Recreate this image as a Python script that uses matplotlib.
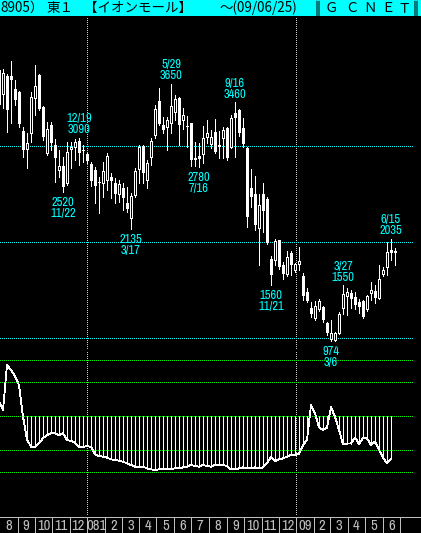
import numpy as np
import pandas as pd
import matplotlib
matplotlib.use('Agg')
import matplotlib.pyplot as plt
from matplotlib import font_manager as fm

plt.rcParams['lines.scale_dashes'] = False

# ---------------- data ----------------
WEEK0 = '2007-07-30'   # first weekly candle (week starting Monday)

opens = [3795, 3545, 3730, 3730, 3595, 3565, 3160, 2970, 3140, 3505,
         3745, 3410, 2930, 3220, 3015, 2755, 2795, 2620, 2970, 2995,
         3055, 2960, 2920, 2815, 2755, 2630, 2620, 2650, 2680, 2620,
         2505, 2565, 2410, 2255, 2495, 2765, 3005, 2650, 2890, 3120,
         3470, 3220, 3200, 3245, 3355, 3505, 3275, 3210, 3245, 2880,
         2900, 2920, 3095, 3025, 3150, 3015, 3085, 3190, 2995, 3345,
         3380, 3190, 2980, 2565, 2505, 2150, 2505, 2450, 1825, 1815,
         2020, 1765, 1670, 1890, 1710, 1775, 1650, 1480, 1315, 1210,
         1305, 1325, 1160, 995, 980, 1055, 1315, 1440, 1470, 1430,
         1380, 1390, 1305, 1470, 1495, 1420, 1670, 1745, 1920, 1910]
highs = [3815, 3805, 3755, 3890, 3690, 3575, 3200, 3140, 3565, 3845,
         3755, 3420, 3255, 3255, 3075, 2960, 2890, 3045, 3045, 3075,
         3090, 3015, 2930, 2835, 2785, 2680, 2835, 2930, 2720, 2670,
         2650, 2620, 2575, 2515, 2775, 3015, 3015, 2855, 3085, 3430,
         3605, 3305, 3305, 3650, 3535, 3515, 3400, 3315, 3245, 3045,
         3035, 3210, 3275, 3170, 3285, 3160, 3200, 3200, 3325, 3460,
         3390, 3295, 2995, 2765, 2690, 2505, 2620, 2470, 1855, 2030,
         2025, 1795, 1910, 1910, 1785, 1950, 1680, 1525, 1380, 1390,
         1410, 1335, 1170, 1190, 1065, 1275, 1550, 1525, 1505, 1480,
         1410, 1400, 1450, 1585, 1555, 1765, 1745, 2005, 2035, 1940]
lows = [3345, 3400, 3150, 3245, 3430, 3200, 2890, 2775, 3045, 3325,
        3380, 3065, 2910, 2960, 2630, 2680, 2520, 2595, 2775, 2855,
        2805, 2835, 2825, 2585, 2410, 2305, 2470, 2545, 2460, 2410,
        2420, 2335, 2315, 2135, 2470, 2620, 2620, 2565, 2805, 3085,
        3220, 3140, 2960, 3140, 3275, 3015, 3180, 2995, 2795, 2795,
        2780, 2825, 3035, 2980, 2930, 2880, 2880, 2855, 2980, 2890,
        3105, 2995, 2160, 2370, 2130, 1765, 2105, 1980, 1560, 1765,
        1720, 1620, 1650, 1660, 1690, 1710, 1400, 1380, 1220, 1190,
        1285, 1170, 1035, 974, 975, 1045, 1255, 1245, 1315, 1305,
        1265, 1210, 1285, 1400, 1370, 1410, 1650, 1660, 1815, 1765]
closes = [3430, 3765, 3380, 3690, 3480, 3230, 2960, 3035, 3515, 3630,
          3390, 3095, 3180, 3035, 2880, 2795, 2575, 2940, 2995, 3045,
          2930, 2950, 2845, 2640, 2585, 2620, 2745, 2900, 2640, 2505,
          2605, 2460, 2345, 2480, 2745, 2995, 2720, 2825, 3055, 3390,
          3230, 3170, 3275, 3420, 3495, 3220, 3325, 3205, 2855, 2855,
          2870, 3085, 3140, 3095, 2940, 2995, 3170, 2880, 3295, 3295,
          3140, 3025, 2265, 2470, 2180, 2390, 2325, 1995, 1660, 2015,
          1745, 1670, 1845, 1765, 1775, 1805, 1440, 1390, 1255, 1335,
          1390, 1190, 1055, 1055, 1055, 1255, 1460, 1480, 1410, 1345,
          1325, 1220, 1440, 1505, 1420, 1620, 1710, 1900, 1890, 1890]

# oscillator (deviation-type indicator, lower panel)
osc = [8.6, 3.7, 30.2, 27.2, 23.7, 18.4, -0.2, -13.5, -17.9, -17.9,
       -15.9, -12.9, -11.0, -10.0, -10.0, -11.0, -10.0, -13.9, -14.5, -15.5,
       -18.2, -17.9, -17.5, -17.9, -22.4, -23.4, -23.7, -24.3, -25.3, -25.7,
       -26.1, -26.7, -27.6, -28.6, -29.6, -30.0, -29.6, -30.6, -31.2, -31.6,
       -31.2, -31.2, -31.2, -31.0, -30.6, -30.6, -30.0, -29.6, -28.6, -29.2,
       -29.6, -28.6, -29.2, -29.6, -28.6, -28.6, -28.6, -29.2, -31.2, -31.2,
       -30.6, -30.0, -30.6, -30.6, -30.0, -30.6, -30.0, -27.6, -23.7, -26.3,
       -25.3, -24.7, -23.7, -22.7, -22.7, -22.0, -16.9, -13.9, 6.6, 1.8,
       -6.5, -8.0, -6.7, 5.3, -0.2, -8.0, -16.3, -16.0, -16.0, -12.4,
       -16.3, -12.9, -12.9, -16.9, -14.9, -19.8, -24.3, -27.5, -25.0, np.nan]
osc_levels = [33, 20, 0, -20, -33]
price_grid = [1000, 2000, 3000]

# peak / trough annotations: (week index, date text)
high_marks = [(20, '12/19'), (43, '5/29'), (59, '9/16'), (86, '3/27'), (98, '6/15')]
low_marks = [(16, '11/22'), (33, '3/17'), (50, '7/16'), (68, '11/21'), (83, '3/6')]

month_labels = ['8', '9', '10', '11', '12', '081', '2', '3', '4', '5', '6', '7',
                '8', '9', '10', '11', '12', '09', '2', '3', '4', '5', '6']
month_bounds = ['2007-08-01'] + [d.strftime('%Y-%m-%d') for d in
                                 pd.date_range('2007-09-01', '2009-07-01', freq='MS')]
year_starts = ['2008-01-01', '2009-01-01']

header_parts = [('8905）', 0, 'left'), ('東１', 46.5, 'left'),
                ('【イオンモール】', 84, 'left'), ('～(09/06/25)', 219, 'left'),
                ('Ｇ', 331, 'center'), ('Ｃ', 352, 'center'),
                ('Ｎ', 370, 'center'), ('Ｅ', 388, 'center'), ('Ｔ', 404, 'center')]
header_bars = [('║', 318), ('║', 416)]

# ---------------- style ----------------
narrow_fam, narrow_stretch = 'DejaVu Sans', 'normal'
for f in fm.fontManager.ttflist:
    if 'Narrow' in f.name and f.style == 'normal' and f.weight in (400, 'normal', 'regular'):
        narrow_fam, narrow_stretch = f.name, f.stretch
        break
else:
    for f in fm.fontManager.ttflist:
        if f.name == 'DejaVu Sans' and f.stretch == 'condensed' and f.style == 'normal':
            narrow_fam, narrow_stretch = 'DejaVu Sans', 'condensed'
            break
IS_NARROW = ('Narrow' in narrow_fam) or narrow_stretch == 'condensed'
NSIZE_LBL = 9 if IS_NARROW else 8
NSIZE_MON = 10.5 if IS_NARROW else 9
NFONT = dict(family=narrow_fam, fontstretch=narrow_stretch)
CJK = ['Noto Sans CJK JP', 'DejaVu Sans']

CYAN = '#00ffff'
GREEN = '#00ff00'
GRAY = '#c0c0c0'
WHITE = '#ffffff'
PX = 0.72  # one pixel in points at 100 dpi
LW = 0.6
DOT = (0, (PX, 2 * PX))

W, H = 421, 533
fig = plt.figure(figsize=(W / 100, H / 100), dpi=100, facecolor='black')


def ax_px(top, bottom, face='none', z=0):
    a = fig.add_axes([0, (H - bottom) / H, 1, (bottom - top) / H])
    a.set_facecolor(face)
    a.set_zorder(z)
    a.set_xticks([]); a.set_yticks([])
    for s in a.spines.values():
        s.set_visible(False)
    return a


def wpos(date):
    return ((pd.Timestamp(date) - pd.Timestamp(WEEK0)).days - 0.5) / 7


XLIM = (0.25, 105.5)
XEND = 103.5
idx = np.arange(len(opens))

# header
hx = ax_px(0, 15.5, face=CYAN, z=1)
hx.set_xlim(0, W); hx.set_ylim(15.5, 0)
for txt, x, ha in header_parts:
    hx.text(x, 8, txt, ha=ha, va='center', fontsize=9.7, family=CJK, color='black')
for txt, x in header_bars:
    hx.text(x, 8, txt, ha='center', va='center', fontsize=9.5, family='DejaVu Sans',
            color='black')

# price panel
ax = ax_px(16, 350, z=3)
ax.set_xlim(*XLIM)
ax.set_ylim(878.1, 4357.3)
ax.hlines(price_grid, XLIM[0], XEND, colors=CYAN, linestyles=DOT, lw=PX,
          antialiased=False, zorder=1)
ax.vlines(idx, lows, highs, colors=WHITE, lw=LW, antialiased=False, zorder=2)
o = np.array(opens, float); c = np.array(closes, float)
down = c < o
up = ~down
hdown = np.maximum(o[down] - c[down], 10)
ax.bar(idx[down], hdown, bottom=c[down], width=0.75, color=WHITE, linewidth=0,
       antialiased=False, zorder=3)
ax.bar(idx[up], c[up] - o[up], bottom=o[up], width=0.5, facecolor='black',
       edgecolor=WHITE, linewidth=LW, antialiased=False, zorder=3)

for i, d in high_marks:
    ax.annotate(str(highs[i]), xy=(i, highs[i]), xytext=(0, 4.6), textcoords='offset pixels',
                ha='center', va='baseline', color=CYAN, fontsize=NSIZE_LBL, **NFONT)
    ax.annotate(d, xy=(i, highs[i]), xytext=(0, 15.5), textcoords='offset pixels',
                ha='center', va='baseline', color=CYAN, fontsize=NSIZE_LBL, **NFONT)
for i, d in low_marks:
    ax.annotate(str(lows[i]), xy=(i, lows[i]), xytext=(0, -14), textcoords='offset pixels',
                ha='center', va='baseline', color=CYAN, fontsize=NSIZE_LBL,
                annotation_clip=False, **NFONT)
    ax.annotate(d, xy=(i, lows[i]), xytext=(0, -25), textcoords='offset pixels',
                ha='center', va='baseline', color=CYAN, fontsize=NSIZE_LBL,
                annotation_clip=False, **NFONT)

# oscillator panel
ox = ax_px(350, 516, z=2)
ox.set_xlim(*XLIM)
ox.set_ylim(-58.6, 39.0)
ox.hlines(osc_levels, XLIM[0], XEND, colors=GREEN, linestyles=DOT, lw=PX,
          antialiased=False, zorder=1)
ov = np.array(osc, float)
neg = ov < 0
ox.vlines(idx[neg], ov[neg], 0, colors=WHITE, lw=LW, antialiased=False, zorder=2)
ox.plot(idx, ov, color=WHITE, lw=LW, antialiased=False, zorder=3)

# year boundary lines
for a in (ax, ox):
    for ys in year_starts:
        a.axvline(wpos(ys), color='#d0d0d0', lw=PX, linestyle=DOT, antialiased=False, zorder=0)

# month axis
bx = ax_px(516, 533, z=1)
bx.set_xlim(*XLIM)
bx.set_ylim(533, 516)
bx.axhline(516.6, color=GRAY, lw=PX, antialiased=False)
bpos = [wpos(d) for d in month_bounds]
bx.vlines(bpos[1:], 517.5, 533, colors=GRAY, lw=PX, antialiased=False)
for k, lab in enumerate(month_labels):
    xc = (bpos[k] + bpos[k + 1]) / 2
    bx.text(xc, 530, lab, ha='center', va='baseline', color=GRAY,
            fontsize=NSIZE_MON, **NFONT)

fig.savefig('out.png', dpi=100, facecolor='black')
